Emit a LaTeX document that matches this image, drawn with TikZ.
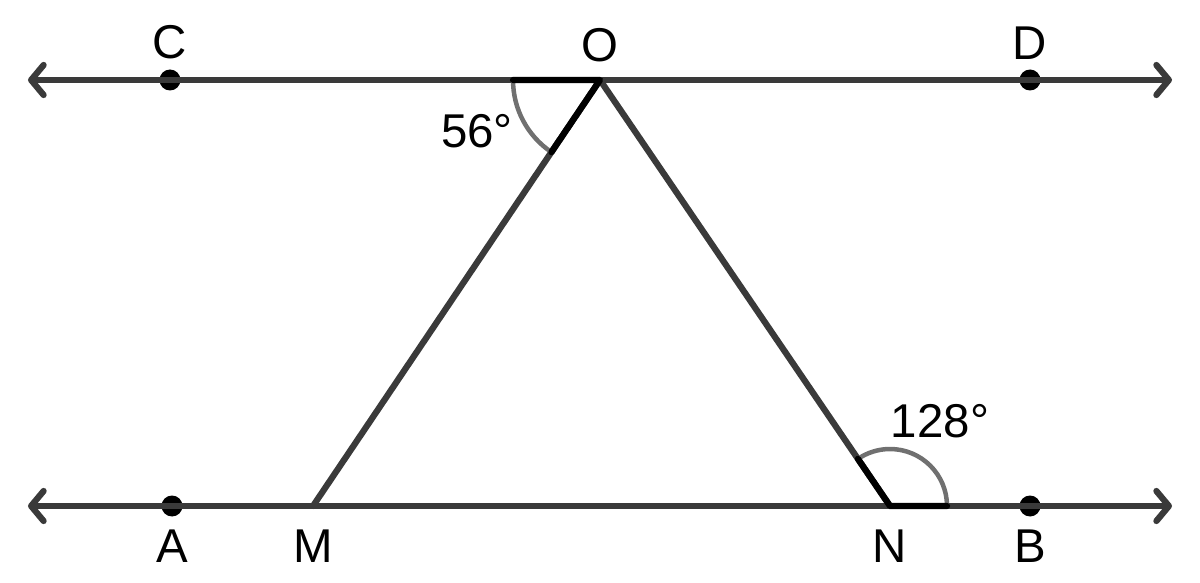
\documentclass[tikz,border=0pt]{standalone}
\usepackage{fontspec}
\setmainfont{Liberation Sans}
\usetikzlibrary{arrows.meta,positioning,calc,angles}
\definecolor{linegray}{HTML}{3A3A3A}
\definecolor{arcgray}{HTML}{707070}

\begin{document}
\begin{tikzpicture}[x=0.02cm,y=0.02cm,line join=round,
                    font=\fontsize{27}{32}\selectfont]
  \tikzstyle{line}=[draw=linegray,line width=0.125cm,line cap=round]
  \tikzstyle{ray}=[line,{Straight Barb[length=0.25cm,width=0.6cm,round]}-{Straight Barb[length=0.25cm,width=0.6cm,round]}]
  \tikzstyle{dot}=[circle,fill=black,inner sep=0pt,minimum size=0.42cm]
  \tikzstyle{lbl}=[inner sep=0pt]
  \tikzstyle{anglemark}=[draw=arcgray,line width=0.09cm]

  \useasboundingbox (0,0) rectangle (1200,582);

  % the two parallel lines
  \coordinate (tl) at (28,502);
  \coordinate (tr) at (1172,502);
  \coordinate (bl) at (28,76);
  \coordinate (br) at (1172,76);
  \coordinate (O) at (600,502);
  \coordinate (M) at (313,76);
  \coordinate (N) at (890,76);

  \node[dot] (C) at (170,502) {};
  \node[dot] (D) at (1030,502) {};
  \node[dot] (A) at (172,76) {};
  \node[dot] (B) at (1030,76) {};

  \path[ray] (tl) -- (tr);
  \path[ray] (bl) -- (br);
  \path[line] (M) -- (O) -- (N);

  % angles
  \pic[anglemark,angle radius=1.74cm] {angle=C--O--M};
  \pic[anglemark,angle radius=1.14cm] {angle=B--N--O};
  \draw[line,draw=black] ($(O)!1.74cm!(C)$) -- (O) -- ($(O)!1.74cm!(M)$);
  \draw[line,draw=black] ($(N)!1.14cm!(B)$) -- (N) -- ($(N)!1.14cm!(O)$);

  \node (a56) at (477,451) {56°};
  \node (a128) at (940,161) {128°};

  % point labels
  \node[lbl] (lC) [above=0.19cm of C] {C};
  \node[lbl] (lD) [above=0.19cm of D] {D};
  \node[lbl] (lO) [above=0.36cm of O] {O};
  \node[lbl] (lA) [below=0.26cm of A] {A};
  \node[lbl] (lB) [below=0.26cm of B] {B};
  \node[lbl] (lM) [below=0.47cm of M] {M};
  \node[lbl] (lN) [below=0.47cm of N] {N};

\end{tikzpicture}
\end{document}
